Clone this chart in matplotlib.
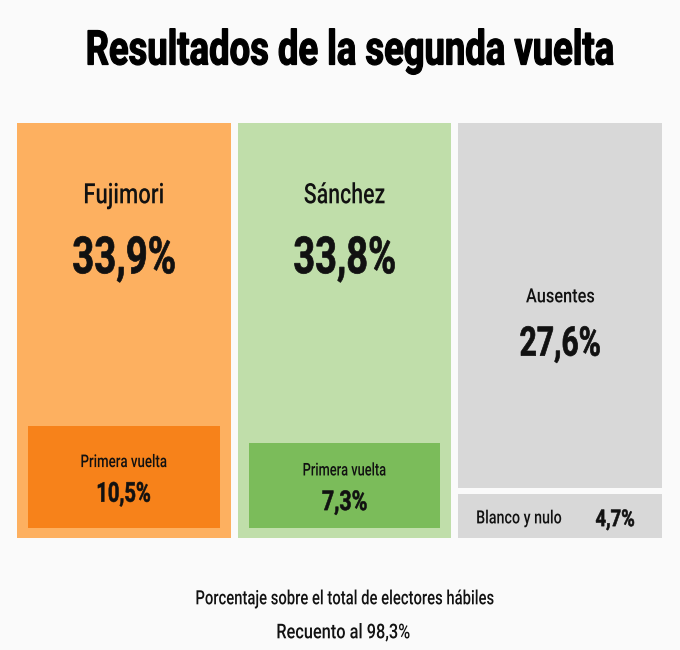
import matplotlib.pyplot as plt
from matplotlib.patches import Rectangle, PathPatch
from matplotlib.textpath import TextPath
from matplotlib.font_manager import FontProperties
from matplotlib.transforms import Affine2D

# segunda vuelta (% sobre electores habiles)
candidates = ['Fujimori', 'Sánchez']
second_round = [33.9, 33.8]
first_round = [10.5, 7.3]
other_labels = ['Ausentes', 'Blanco y nulo']
other_values = [27.6, 4.7]

title = 'Resultados de la segunda vuelta'
sub_label = 'Primera vuelta'
notes = ['Porcentaje sobre el total de electores hábiles', 'Recuento al 98,3%']

outer_colors = ['#fdb060', '#c0deaa']
inner_colors = ['#f7821a', '#7bbc5a']
gray = '#d8d8d8'
bg = '#fafafa'
ink = '#111111'

BOLD = FontProperties(family=['Roboto', 'DejaVu Sans'], weight='bold')
REG = FontProperties(family=['Roboto', 'DejaVu Sans'], weight='medium')


def fmt(v):
    return f'{v:.1f}%'.replace('.', ',')


def cond_text(ax, s, cx, base, cap, width, prop, color=ink, lw=0.0):
    # texto condensado: se dibuja como trazo y se estrecha en horizontal
    cap0 = TextPath((0, 0), 'H', size=1, prop=prop).get_extents().ymax
    tp = TextPath((0, 0), s, size=1, prop=prop)
    ext = tp.get_extents()
    sy = cap / cap0
    sx = width / ext.width
    tr = (Affine2D().translate(-ext.xmin - ext.width / 2, 0)
          .scale(sx, -sy).translate(cx, base))
    ax.add_patch(PathPatch(tr.transform_path(tp), facecolor=color,
                           edgecolor=color, lw=lw))


fig = plt.figure(figsize=(6.8, 6.5), dpi=100, facecolor=bg)
ax = fig.add_axes([0, 0, 1, 1])
ax.set_xlim(0, 680)
ax.set_ylim(650, 0)
ax.axis('off')
ax.set_facecolor(bg)

left, right, top, bottom = 17, 662, 123, 538
gap = 7
total = sum(second_round) + sum(other_values)
avail = (right - left) - 2 * gap
height = bottom - top

name_w = [78, 80]
val_w = [101, 100]
sub_w = [85, 82]
fv_w = [52, 44]

x = left
for i, (name, v, fv) in enumerate(zip(candidates, second_round, first_round)):
    w = v / total * avail
    ax.add_patch(Rectangle((x, top), w, height, color=outer_colors[i], lw=0))
    cx = x + w / 2
    cond_text(ax, name, cx, top + 0.1935 * height, 20, name_w[i], REG)
    cond_text(ax, fmt(v), cx, top + 0.362 * height, 36.5, val_w[i], BOLD, lw=0.5)
    # primera vuelta, rectangulo interior
    ih = height * (fv / v) ** 0.5 * 0.44
    iy = bottom - 10.5 - ih
    ax.add_patch(Rectangle((x + 11, iy), w - 22, ih, color=inner_colors[i], lw=0))
    cy = iy + ih / 2
    cond_text(ax, sub_label, cx, cy - 9.6, 12.5, sub_w[i], REG)
    cond_text(ax, fmt(fv), cx, cy + 25, 19.5, fv_w[i], BOLD, lw=0.4)
    x += w + gap

# ausentes / blanco y nulo
w = right - x
vgap = 6
h_all = height - vgap
h1 = other_values[0] / sum(other_values) * h_all * 1.045
h2 = h_all - h1
ax.add_patch(Rectangle((x, top), w, h1, color=gray, lw=0))
cond_text(ax, other_labels[0], x + w / 2, top + 0.491 * h1, 14, 68, REG)
cond_text(ax, fmt(other_values[0]), x + w / 2, top + 0.637 * h1, 29, 79, BOLD, lw=0.5)
y2 = top + h1 + vgap
ax.add_patch(Rectangle((x, y2), w, h2, color=gray, lw=0))
cond_text(ax, other_labels[1], x + 61, y2 + h2 / 2 + 7.3, 13, 84, REG)
cond_text(ax, fmt(other_values[1]), right - 47, y2 + h2 / 2 + 10, 16.5, 38, BOLD, lw=0.4)

cond_text(ax, title, 350.5, 64.5, 34, 525, BOLD, color='#000000', lw=0.9)
cond_text(ax, notes[0], 345, 604.3, 14, 297, REG)
cond_text(ax, notes[1], 343.5, 638.3, 14.5, 132, REG)

fig.savefig('out.png', dpi=100, facecolor=bg)
